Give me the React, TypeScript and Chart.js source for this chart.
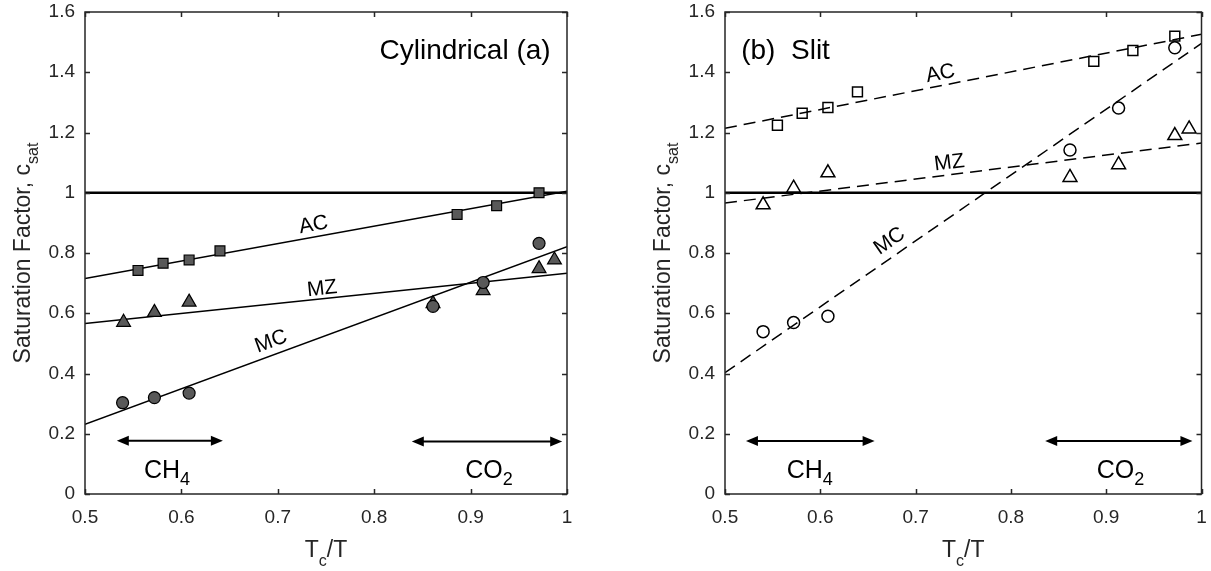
import React, { useEffect, useRef } from "react";
import { Chart, registerables } from "chart.js";

Chart.register(...registerables);

const FONT = "Arial, 'Liberation Sans', Helvetica, sans-serif";
const AXIS_COLOR = "#262626";

// ---- Axes ----
const xTickVals = [0.5, 0.6, 0.7, 0.8, 0.9, 1.0];
const xTickLabels = ["0.5", "0.6", "0.7", "0.8", "0.9", "1"];
const yTickVals = [0, 0.2, 0.4, 0.6, 0.8, 1.0, 1.2, 1.4, 1.6];
const yTickLabels = ["0", "0.2", "0.4", "0.6", "0.8", "1", "1.2", "1.4", "1.6"];

// ---- Fit line x-range and reference line ----
const fitX = [0.5, 1.0];
const refLineY = [1, 1];

// ---- (a) Cylindrical ----
const cylACx = [0.555, 0.581, 0.608, 0.64, 0.886, 0.927, 0.971];
const cylACy = [0.742, 0.766, 0.777, 0.807, 0.928, 0.957, 1.0];
const cylMZx = [0.54, 0.572, 0.608, 0.861, 0.913, 0.971, 0.987];
const cylMZy = [0.57, 0.603, 0.637, 0.632, 0.675, 0.748, 0.777];
const cylMCx = [0.539, 0.572, 0.608, 0.861, 0.913, 0.971];
const cylMCy = [0.303, 0.32, 0.335, 0.623, 0.702, 0.832];
const cylACfit = [0.715, 1.005];
const cylMZfit = [0.566, 0.733];
const cylMCfit = [0.231, 0.821];
const cylLabelText = ["AC", "MZ", "MC"];
const cylLabelX = [0.737, 0.746, 0.693];
const cylLabelY = [0.893, 0.681, 0.506];
const cylArrowX1 = [0.533, 0.839];
const cylArrowX2 = [0.643, 0.995];
const cylArrowY = [0.177, 0.174];
const cylGasX = [0.585, 0.919];

// ---- (b) Slit ----
const slitACx = [0.555, 0.581, 0.608, 0.639, 0.887, 0.928, 0.972];
const slitACy = [1.224, 1.264, 1.283, 1.335, 1.436, 1.472, 1.52];
const slitMZx = [0.54, 0.572, 0.608, 0.862, 0.913, 0.972, 0.987];
const slitMZy = [0.96, 1.015, 1.066, 1.051, 1.093, 1.19, 1.212];
const slitMCx = [0.54, 0.572, 0.608, 0.862, 0.913, 0.972];
const slitMCy = [0.539, 0.569, 0.59, 1.142, 1.281, 1.481];
const slitACfit = [1.214, 1.526];
const slitMZfit = [0.966, 1.165];
const slitMCfit = [0.403, 1.496];
const slitLabelText = ["AC", "MZ", "MC"];
const slitLabelX = [0.726, 0.7355, 0.6727];
const slitLabelY = [1.395, 1.099, 0.839];
const slitArrowX1 = [0.522, 0.836];
const slitArrowX2 = [0.657, 0.9905];
const slitArrowY = [0.176, 0.176];
const slitGasX = [0.589, 0.915];

const gasNames = ["CH", "CO"];
const gasSubs = ["4", "2"];
const gasBaselineY = 0.053;
const titleBaselineY = 1.443;

type Part = { t: string; sub?: boolean };

function drawRich(
  ctx: CanvasRenderingContext2D,
  parts: Part[],
  x: number,
  y: number,
  size: number,
  subSize: number,
  subDrop: number,
  align: "left" | "center" | "right",
  color: string
) {
  const widths: number[] = [];
  let total = 0;
  for (const p of parts) {
    ctx.font = `${p.sub ? subSize : size}px ${FONT}`;
    const w = ctx.measureText(p.t).width;
    widths.push(w);
    total += w;
  }
  let sx = align === "center" ? x - total / 2 : align === "right" ? x - total : x;
  ctx.textAlign = "left";
  ctx.textBaseline = "alphabetic";
  ctx.fillStyle = color;
  parts.forEach((p, i) => {
    ctx.font = `${p.sub ? subSize : size}px ${FONT}`;
    ctx.fillText(p.t, sx, p.sub ? y + subDrop : y);
    sx += widths[i];
  });
}

const decorPlugin = {
  id: "decor",
  afterDatasetsDraw(chart: any, _args: any, opts: any) {
    const ctx: CanvasRenderingContext2D = chart.ctx;
    const xs = chart.scales.x;
    const ys = chart.scales.y;
    const { left, right, top, bottom } = chart.chartArea;
    ctx.save();

    // arrows
    ctx.strokeStyle = "#000";
    ctx.fillStyle = "#000";
    ctx.lineWidth = 2;
    const headL = 12;
    const headH = 5;
    for (let i = 0; i < opts.arrowX1.length; i++) {
      const x1 = xs.getPixelForValue(opts.arrowX1[i]);
      const x2 = xs.getPixelForValue(opts.arrowX2[i]);
      const y = ys.getPixelForValue(opts.arrowY[i]);
      ctx.beginPath();
      ctx.moveTo(x1 + headL - 1, y);
      ctx.lineTo(x2 - headL + 1, y);
      ctx.stroke();
      ctx.beginPath();
      ctx.moveTo(x1, y);
      ctx.lineTo(x1 + headL, y - headH);
      ctx.lineTo(x1 + headL, y + headH);
      ctx.closePath();
      ctx.fill();
      ctx.beginPath();
      ctx.moveTo(x2, y);
      ctx.lineTo(x2 - headL, y - headH);
      ctx.lineTo(x2 - headL, y + headH);
      ctx.closePath();
      ctx.fill();
    }

    // line labels, rotated along their fit lines
    const fits = opts.fits as number[][];
    for (let i = 0; i < opts.labelText.length; i++) {
      const f = fits[i];
      const ang = Math.atan2(
        ys.getPixelForValue(f[1]) - ys.getPixelForValue(f[0]),
        xs.getPixelForValue(fitX[1]) - xs.getPixelForValue(fitX[0])
      );
      ctx.save();
      ctx.translate(xs.getPixelForValue(opts.labelX[i]), ys.getPixelForValue(opts.labelY[i]));
      ctx.rotate(ang);
      ctx.font = `21px ${FONT}`;
      ctx.fillStyle = "#000";
      ctx.textAlign = "center";
      ctx.textBaseline = "middle";
      ctx.fillText(opts.labelText[i], 0, 0);
      ctx.restore();
    }

    // gas labels
    for (let i = 0; i < opts.gasX.length; i++) {
      drawRich(
        ctx,
        [{ t: gasNames[i] }, { t: gasSubs[i], sub: true }],
        xs.getPixelForValue(opts.gasX[i]),
        ys.getPixelForValue(gasBaselineY),
        25,
        18,
        7,
        "center",
        "#000"
      );
    }

    // panel title
    ctx.font = `28px ${FONT}`;
    ctx.fillStyle = "#000";
    ctx.textAlign = opts.titleAlign;
    ctx.textBaseline = "alphabetic";
    ctx.fillText(opts.title, xs.getPixelForValue(opts.titleX), ys.getPixelForValue(titleBaselineY));

    // frame
    ctx.strokeStyle = AXIS_COLOR;
    ctx.lineWidth = 1.5;
    ctx.strokeRect(left, top, right - left, bottom - top);
    ctx.beginPath();
    const tk = 5;
    for (const v of xTickVals) {
      const px = Math.round(xs.getPixelForValue(v)) + 0.5;
      ctx.moveTo(px, bottom);
      ctx.lineTo(px, bottom - tk);
      ctx.moveTo(px, top);
      ctx.lineTo(px, top + tk);
    }
    for (const v of yTickVals) {
      const py = Math.round(ys.getPixelForValue(v)) + 0.5;
      ctx.moveTo(left, py);
      ctx.lineTo(left + tk, py);
      ctx.moveTo(right, py);
      ctx.lineTo(right - tk, py);
    }
    ctx.stroke();

    // axis titles
    const cx = (left + right) / 2;
    drawRich(
      ctx,
      [{ t: "T" }, { t: "c", sub: true }, { t: "/T" }],
      cx,
      557,
      23,
      16,
      9,
      "center",
      AXIS_COLOR
    );
    ctx.save();
    ctx.translate(left - 55, (top + bottom) / 2);
    ctx.rotate(-Math.PI / 2);
    drawRich(
      ctx,
      [{ t: "Saturation Factor, c" }, { t: "sat", sub: true }],
      0,
      0,
      23,
      16,
      8,
      "center",
      AXIS_COLOR
    );
    ctx.restore();

    ctx.restore();
  },
};

function pts(xs: number[], ys: number[]) {
  return xs.map((x, i) => ({ x, y: ys[i] }));
}

type PanelDef = {
  ac: [number[], number[]];
  mz: [number[], number[]];
  mc: [number[], number[]];
  fits: number[][];
  filled: boolean;
  dashed: boolean;
  yAxisWidth: number;
  padRight: number;
  decor: any;
};

function makeConfig(p: PanelDef): any {
  const face = p.filled ? "#595959" : "rgba(0,0,0,0)";
  const edge = "#000";
  const lineDash = p.dashed ? [12, 7] : [];
  const marker = (data: any, style: string, r: number) => ({
    data,
    pointStyle: style,
    pointRadius: r,
    pointBackgroundColor: face,
    pointBorderColor: edge,
    pointBorderWidth: p.filled ? 1.2 : 1.5,
    showLine: false,
    order: 0,
  });
  const fitLine = (ys: number[]) => ({
    data: pts(fitX, ys),
    showLine: true,
    borderColor: "#000",
    borderWidth: 1.5,
    borderDash: lineDash,
    pointRadius: 0,
    fill: false,
    order: 2,
  });
  return {
    type: "scatter",
    data: {
      datasets: [
        marker(pts(p.mc[0], p.mc[1]), "circle", 6),
        marker(pts(p.ac[0], p.ac[1]), "rect", 7),
        marker(pts(p.mz[0], p.mz[1]), "triangle", 8),
        fitLine(p.fits[0]),
        fitLine(p.fits[1]),
        fitLine(p.fits[2]),
        {
          data: pts(fitX, refLineY),
          showLine: true,
          borderColor: "#000",
          borderWidth: 2.5,
          pointRadius: 0,
          fill: false,
          order: 3,
        },
      ],
    },
    options: {
      responsive: false,
      animation: false,
      events: [],
      layout: { padding: { left: 0, top: 12, right: p.padRight, bottom: 0 } },
      plugins: {
        legend: { display: false },
        tooltip: { enabled: false },
        decor: p.decor,
      },
      scales: {
        x: {
          type: "linear",
          min: 0.5,
          max: 1.0,
          grid: { display: false, drawTicks: false },
          border: { display: false },
          afterBuildTicks: (axis: any) => {
            axis.ticks = xTickVals.map((v) => ({ value: v }));
          },
          afterFit: (axis: any) => {
            axis.height = 77;
            axis.paddingLeft = 0;
            axis.paddingRight = 0;
          },
          ticks: {
            padding: 12,
            color: AXIS_COLOR,
            font: { family: FONT, size: 19 },
            maxRotation: 0,
            autoSkip: false,
            callback: (_v: any, i: number) => xTickLabels[i],
          },
        },
        y: {
          type: "linear",
          min: 0,
          max: 1.6,
          grid: { display: false, drawTicks: false },
          border: { display: false },
          afterBuildTicks: (axis: any) => {
            axis.ticks = yTickVals.map((v) => ({ value: v }));
          },
          afterFit: (axis: any) => {
            axis.width = p.yAxisWidth;
            axis.paddingTop = 0;
            axis.paddingBottom = 0;
          },
          ticks: {
            padding: 10,
            color: AXIS_COLOR,
            font: { family: FONT, size: 19 },
            autoSkip: false,
            callback: (_v: any, i: number) => yTickLabels[i],
          },
        },
      },
    },
    plugins: [decorPlugin],
  };
}

function Panel({ def, width }: { def: PanelDef; width: number }) {
  const ref = useRef<HTMLCanvasElement | null>(null);
  useEffect(() => {
    if (!ref.current) return;
    const chart = new Chart(ref.current, makeConfig(def));
    return () => chart.destroy();
  }, []);
  return <canvas ref={ref} width={width} height={571} style={{ display: "block" }} />;
}

const leftPanel: PanelDef = {
  ac: [cylACx, cylACy],
  mz: [cylMZx, cylMZy],
  mc: [cylMCx, cylMCy],
  fits: [cylACfit, cylMZfit, cylMCfit],
  filled: true,
  dashed: false,
  yAxisWidth: 85,
  padRight: 605 - 567,
  decor: {
    fits: [cylACfit, cylMZfit, cylMCfit],
    labelText: cylLabelText,
    labelX: cylLabelX,
    labelY: cylLabelY,
    arrowX1: cylArrowX1,
    arrowX2: cylArrowX2,
    arrowY: cylArrowY,
    gasX: cylGasX,
    title: "Cylindrical (a)",
    titleX: 0.983,
    titleAlign: "right",
  },
};

const rightPanel: PanelDef = {
  ac: [slitACx, slitACy],
  mz: [slitMZx, slitMZy],
  mc: [slitMCx, slitMCy],
  fits: [slitACfit, slitMZfit, slitMCfit],
  filled: false,
  dashed: true,
  yAxisWidth: 120,
  padRight: 606 - 600,
  decor: {
    fits: [slitACfit, slitMZfit, slitMCfit],
    labelText: slitLabelText,
    labelX: slitLabelX,
    labelY: slitLabelY,
    arrowX1: slitArrowX1,
    arrowX2: slitArrowX2,
    arrowY: slitArrowY,
    gasX: slitGasX,
    title: "(b)  Slit",
    titleX: 0.517,
    titleAlign: "left",
  },
};

export default function App() {
  useEffect(() => {
    document.body.style.margin = "0";
    document.body.style.background = "#fff";
  }, []);
  return (
    <div style={{ display: "flex", width: 1211, height: 571, background: "#fff", overflow: "hidden" }}>
      <Panel def={leftPanel} width={605} />
      <Panel def={rightPanel} width={606} />
    </div>
  );
}
